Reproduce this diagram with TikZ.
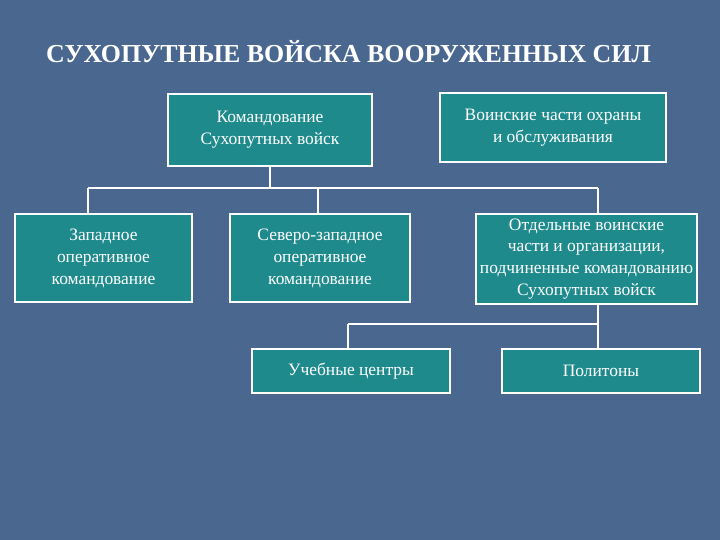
\documentclass[tikz,border=0pt]{standalone}
\usepackage{fontspec}
\setmainfont{Liberation Serif}
\begin{document}
\begin{tikzpicture}[x=1bp,y=-1bp,
  box/.style={draw=white,line width=1.2bp,fill=boxc,text=white,align=center,inner sep=0pt,font=\fontsize{17.5}{22}\selectfont},
  conn/.style={draw=white,line width=1.2bp}]
\definecolor{bg}{HTML}{4A6790}
\definecolor{boxc}{HTML}{1E8A8C}
\fill[bg] (0,0) rectangle (720,540);
\node[font=\bfseries\fontsize{26}{28}\selectfont,text=white,anchor=west,inner sep=0pt] (t) at (46,52) {СУХОПУТНЫЕ ВОЙСКА ВООРУЖЕННЫХ СИЛ};
\node[box,minimum width=204bp,minimum height=72bp] (k) at (270,130) {Командование\\Сухопутных войск};
\node[box,minimum width=226bp,minimum height=69bp] (v) at (553,127.5) {Воинские части охраны\\и обслуживания};
\node[box,minimum width=177bp,minimum height=88bp] (z) at (103.5,258) {Западное\\оперативное\\командование};
\node[box,minimum width=180bp,minimum height=88bp] (s) at (320,258) {Северо-западное\\оперативное\\командование};
\node[box,minimum width=221bp,minimum height=90bp] (o) at (586.5,259) {Отдельные воинские\\части и организации,\\подчиненные командованию\\Сухопутных войск};
\node[box,minimum width=198bp,minimum height=44bp] (u) at (351,371) {Учебные центры};
\node[box,minimum width=198bp,minimum height=44bp] (p) at (601,371) {Политоны};
\coordinate (h1) at (270,188);
\draw[conn] (k.south) -- (h1);
\draw[conn] (88,188) -- (598,188);
\draw[conn] (88,188) -- (88,214);
\draw[conn] (318,188) -- (318,214);
\draw[conn] (598,188) -- (598,214);
\draw[conn] (598,304) -- (598,324);
\draw[conn] (348,324) -- (598,324);
\draw[conn] (348,324) -- (348,349);
\draw[conn] (598,324) -- (598,349);
\end{tikzpicture}
\end{document}
